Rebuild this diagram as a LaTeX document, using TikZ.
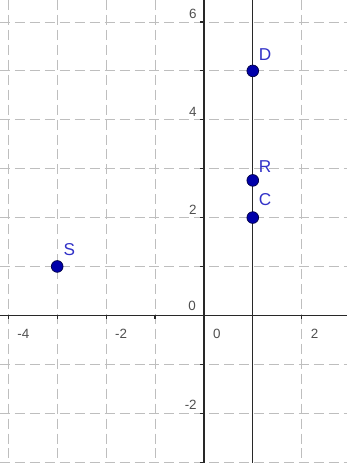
\documentclass[tikz,border=0pt]{standalone}
\usepackage{fontspec}
\setmainfont{Liberation Sans}
\definecolor{gridgray}{RGB}{190,190,190}
\definecolor{axisgray}{RGB}{40,40,40}
\definecolor{ticktext}{RGB}{80,80,80}
\definecolor{ptblue}{RGB}{0,0,170}
\definecolor{lblblue}{RGB}{50,50,200}
\tikzset{
  gridline/.style={draw=gridgray, line width=0.5pt, dash pattern=on 5.8pt off 2.9pt},
  axisline/.style={draw=axisgray, line width=0.85pt},
  tickmark/.style={draw=axisgray, line width=0.6pt},
  xlab/.style={anchor=north west, inner sep=0pt, text=ticktext, font=\fontsize{7.8}{8}\selectfont},
  ylab/.style={anchor=south east, inner sep=0pt, text=ticktext, font=\fontsize{7.8}{8}\selectfont},
  pt/.style={circle, fill=ptblue, draw=black!60!ptblue, line width=0.4pt, inner sep=0pt, minimum size=0.24cm},
  ptlabel/.style={text=lblblue, inner sep=0pt, font=\fontsize{10}{12}\selectfont}
}
\begin{document}
\begin{tikzpicture}[x=1cm,y=1cm]
\useasboundingbox (-4.17,-3.02) rectangle (2.93,6.45);
\fill[white] (-4.17,-3.02) rectangle (2.93,6.45);
% grid
\foreach \gx in {-4,-3,-2,-1,1,2}
  \draw[gridline] (\gx,6.45) -- (\gx,-3.02);
\foreach \gy in {-3,-2,-1,1,2,3,4,5,6}
  \draw[gridline] (-4.17,\gy) -- (2.93,\gy);
% axes
\coordinate (xl) at (-4.17,0);
\coordinate (xr) at (2.93,0);
\coordinate (yb) at (0,-3.02);
\coordinate (yt) at (0,6.45);
\draw[axisline] (xl) -- (xr);
\draw[axisline] (yb) -- (yt);
% ticks
\foreach \gy in {-3,-2,-1,1,2,3,4,5,6}
  \draw[tickmark] (-0.08,\gy) -- (0,\gy);
\foreach \gx in {-4,-3,-2,-1,1,2}
  \draw[tickmark] (\gx,0) -- (\gx,-0.08);
% tick labels
\node[xlab] (xm4) at (-3.82,-0.28) {-4};
\node[xlab] (xm2) at (-1.82,-0.28) {-2};
\node[xlab] (x0)  at (0.18,-0.28) {0};
\node[xlab] (x2)  at (2.18,-0.28) {2};
\node[ylab] (y6)  at (-0.14,6.06) {6};
\node[ylab] (y4)  at (-0.14,4.06) {4};
\node[ylab] (y2)  at (-0.14,2.06) {2};
\node[ylab] (y0)  at (-0.16,0.08) {0};
\node[ylab] (ym2) at (-0.14,-1.94) {-2};
% line x = 1
\coordinate (lt) at (1,6.45);
\coordinate (lb) at (1,-3.02);
\draw[axisline] (lb) -- (lt);
% points
\node[pt] (D) at (1,5) {};
\node[pt] (R) at (1,2.76) {};
\node[pt] (C) at (1,2) {};
\node[pt] (S) at (-3,1) {};
\node[ptlabel] (Dl) at (1.25,5.33) {D};
\node[ptlabel] (Rl) at (1.25,3.04) {R};
\node[ptlabel] (Cl) at (1.25,2.36) {C};
\node[ptlabel] (Sl) at (-2.75,1.35) {S};
\end{tikzpicture}
\end{document}
